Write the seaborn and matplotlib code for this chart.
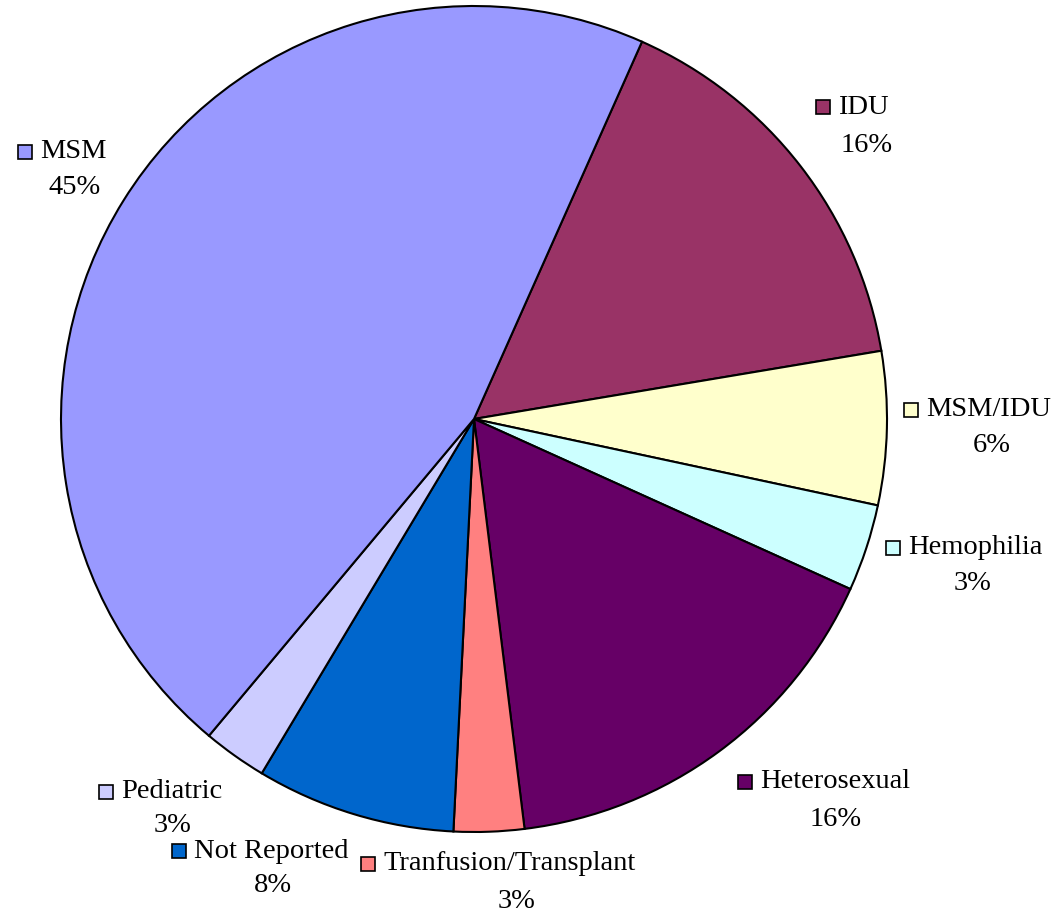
import matplotlib
matplotlib.use('Agg')
import matplotlib.pyplot as plt
import seaborn as sns

# ── Data ──────────────────────────────────────────────────────────────────────
categories = ['IDU', 'MSM/IDU', 'Hemophilia', 'Heterosexual',
              'Tranfusion/Transplant', 'Not Reported', 'Pediatric', 'MSM']
shares = [15.7, 6.0, 3.4, 16.3, 2.75, 7.8, 2.5, 45.6]
pct_labels = ['16%', '6%', '3%', '16%', '3%', '8%', '3%', '45%']
colors = ['#993366', '#FFFFCC', '#CCFFFF', '#660066',
          '#FF8080', '#0066CC', '#CCCCFF', '#9999FF']

# label anchors in pixel space (square x, name-line y, pct centre x, pct y)
label_pos = {
    'IDU':                   (823, 107, 867, 145),
    'MSM/IDU':               (911, 410, 992, 446),
    'Hemophilia':            (893, 548, 973, 584),
    'Heterosexual':          (745, 782, 836, 820),
    'Tranfusion/Transplant': (368, 864, 517, 902),
    'Not Reported':          (179, 851, 273, 885),
    'Pediatric':             (106, 792, 173, 826),
    'MSM':                   (25, 152, 75, 188),
}

sns.set_style('white')
plt.rcParams['font.family'] = ['Liberation Serif', 'DejaVu Serif']
plt.rcParams['text.color'] = 'black'

W, H = 1060, 916
fig = plt.figure(figsize=(W / 100, H / 100), dpi=100)
ax = fig.add_axes([0, 0, 1, 1])

ax.pie(shares, colors=colors, startangle=66, counterclock=False,
       center=(474, H - 419), radius=413, frame=True,
       wedgeprops={'edgecolor': 'black', 'linewidth': 1.5})
ax.set_xlim(0, W)
ax.set_ylim(0, H)
ax.set_aspect('equal')
ax.axis('off')

for cat, col, pct in zip(categories, colors, pct_labels):
    sx, sy, px, py = label_pos[cat]
    ax.plot(sx, H - sy, marker='s', markersize=10, markerfacecolor=col,
            markeredgecolor='black', markeredgewidth=1.2, linestyle='none')
    ax.text(sx + 15, H - sy, cat, fontsize=20.5, ha='left', va='center',
            color='black')
    ax.text(px, H - py, pct, fontsize=20.5, ha='center', va='center',
            color='black')

fig.savefig('out.png', dpi=100, facecolor='white')
plt.close()
